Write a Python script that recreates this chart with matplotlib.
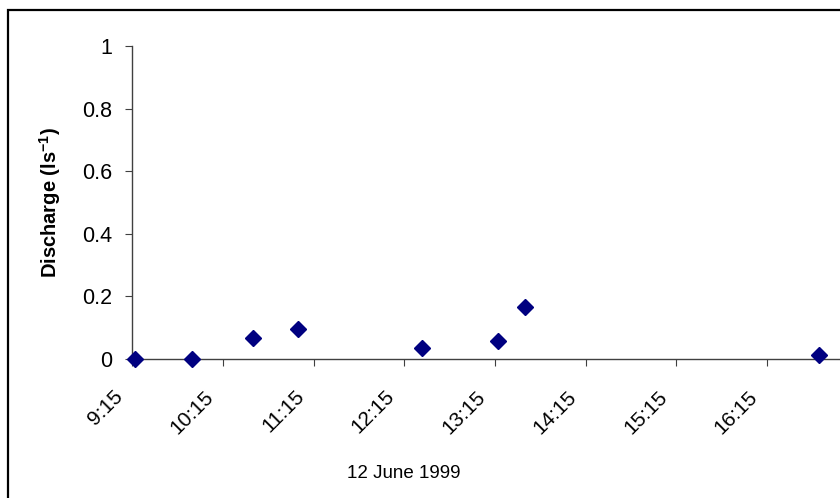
import matplotlib
matplotlib.use("Agg")
import matplotlib.pyplot as plt
from matplotlib.patches import Rectangle

# sampling times on 12 June 1999 and measured discharge
times = ["9:17", "9:55", "10:35", "11:05", "12:27", "13:17", "13:35", "16:49"]
discharge = [0.0, 0.0, 0.068, 0.095, 0.034, 0.058, 0.165, 0.012]
tick_labels = ["9:15", "10:15", "11:15", "12:15", "13:15", "14:15", "15:15", "16:15"]
y_ticks = [0, 0.2, 0.4, 0.6, 0.8, 1]


def to_hours(s):
    h, m = s.split(":")
    return int(h) + int(m) / 60.0


x = [to_hours(t) for t in times]
xt = [to_hours(t) for t in tick_labels]

plt.rcParams["font.family"] = ["Liberation Sans", "DejaVu Sans"]

fig = plt.figure(figsize=(8.4, 4.98), dpi=100)
fig.patch.set_facecolor("white")
fig.patches.append(Rectangle((8 / 840, -0.1), 1.2, (498 - 10) / 498 + 0.1,
                             transform=fig.transFigure, fill=False,
                             edgecolor="black", linewidth=1.6))

ax = fig.add_axes([132 / 840, 1 - 359 / 498, (858 - 132) / 840, (359 - 46) / 498])
ax.plot(x, discharge, linestyle="none", marker="D", markersize=8,
        color="#000080", clip_on=False, zorder=3)

ax.set_xlim(9.25, 17.25)
ax.set_ylim(0, 1)
ax.set_yticks(y_ticks)
ax.set_yticklabels(["0", "0.2", "0.4", "0.6", "0.8", "1"], fontsize=15.5)
ax.set_xticks(xt)
ax.set_xticklabels([])

# slanted time labels hanging below-left of each tick
for xv, lbl in zip(xt, tick_labels):
    ax.annotate(lbl, (xv, 0), xycoords=("data", "axes fraction"),
                xytext=(-9, -25), textcoords="offset points",
                rotation=45, ha="right", va="center",
                rotation_mode="anchor", fontsize=15, annotation_clip=False)

for s in ["top", "right"]:
    ax.spines[s].set_visible(False)
for s in ["left", "bottom"]:
    ax.spines[s].set_color("#404040")
    ax.spines[s].set_linewidth(1.0)
ax.tick_params(axis="y", length=5, color="#404040", pad=9)
ax.tick_params(axis="x", length=5, color="#404040", pad=0)

ax.set_ylabel("Discharge (ls$^{\\mathregular{-1}}$)", fontsize=14.5,
              fontweight="bold")
ax.yaxis.set_label_coords(-0.095, 0.5)
fig.text(347 / 840, 1 - 473 / 498, "12 June 1999", fontsize=13.5,
         ha="left", va="center")

fig.savefig("out.png", dpi=100)
